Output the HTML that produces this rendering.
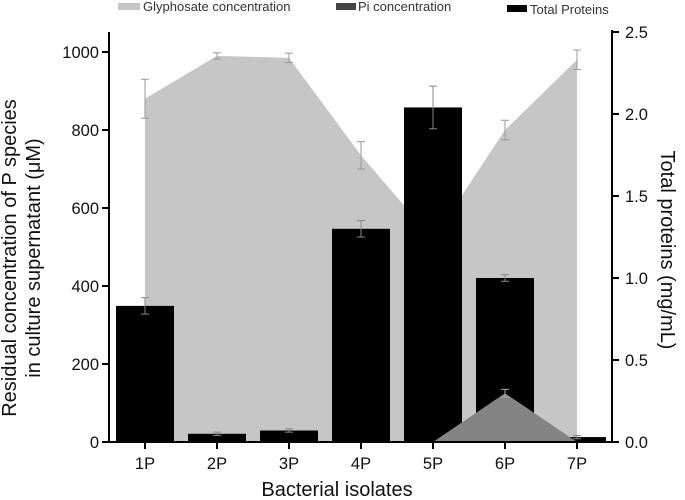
<!DOCTYPE html>
<html><head><meta charset="utf-8">
<style>
body{margin:0;background:#fff;}
svg{display:block;font-family:"Liberation Sans",Arial,sans-serif;}
</style></head>
<body>
<svg id="chart" width="685" height="500" viewBox="0 0 685 500">
  <g>
    <g>
      <rect x="118" y="3" width="22" height="7" fill="#c6c6c6"/>
      <text x="143" y="11" font-size="13" fill="#333">Glyphosate concentration</text>
    </g>
    <g>
      <rect x="336" y="3" width="20" height="7" fill="#444"/>
      <text x="358" y="11" font-size="13" fill="#333">Pi concentration</text>
    </g>
    <g>
      <rect x="507" y="5" width="20" height="7" fill="#000"/>
      <text x="530" y="14" font-size="13" fill="#333">Total Proteins</text>
    </g>
  </g>
  <g id="plot"></g>
  <text font-size="20" fill="#111" text-anchor="middle" transform="translate(16,258) rotate(-90)">Residual concentration of P species</text>
  <text font-size="20" fill="#111" text-anchor="middle" transform="translate(40,258) rotate(-90)">in culture supernatant (μM)</text>
  <text font-size="20" fill="#111" text-anchor="middle" transform="translate(661,250) rotate(90)">Total proteins (mg/mL)</text>
  <text x="337" y="496" font-size="20" fill="#111" text-anchor="middle">Bacterial isolates</text>
</svg>
<script>
const categories = ["1P","2P","3P","4P","5P","6P","7P"];
const glyphosate = [880, 990, 985, 735, 520, 800, 980];
const glyphosateErr = [50, 8, 12, 35, 50, 25, 25];
const pi = [0, 0, 0, 0, 0, 125, 0];
const piErr = [2, 2, 2, 2, 2, 10, 2];
const proteins = [0.83, 0.05, 0.07, 1.30, 2.04, 1.00, 0.03];
const proteinsErr = [0.05, 0.01, 0.01, 0.05, 0.13, 0.02, 0.01];
const leftTicks = [0, 200, 400, 600, 800, 1000];
const rightTicks = ["0.0","0.5","1.0","1.5","2.0","2.5"];

const NS = "http://www.w3.org/2000/svg";
const g = document.getElementById("plot");
const X0 = 109, X1 = 612, Y0 = 442;
const xPos = i => 145 + i * 72;
const yL = v => Y0 - v * 0.39;
const yR = v => Y0 - v * 164;
const BW = 58;
function mk(tag, attrs, parent){
  const e = document.createElementNS(NS, tag);
  for (const k in attrs) e.setAttribute(k, attrs[k]);
  (parent || g).appendChild(e);
  return e;
}
function errBar(x, lo, hi, color, name){
  const eg = mk("g", {stroke: color, "stroke-width": 1});
  
  
  mk("line", {x1:x, x2:x, y1:lo, y2:hi}, eg);
  mk("line", {x1:x-4, x2:x+4, y1:lo, y2:lo}, eg);
  mk("line", {x1:x-4, x2:x+4, y1:hi, y2:hi}, eg);
}
let d = "M" + xPos(0) + "," + Y0;
glyphosate.forEach((v,i) => { d += " L" + xPos(i) + "," + yL(v); });
d += " L" + xPos(glyphosate.length-1) + "," + Y0 + " Z";
const ga = mk("path", {d: d, fill: "#c6c6c6"});


glyphosate.forEach((v,i) => errBar(xPos(i), yL(v - glyphosateErr[i]), yL(v + glyphosateErr[i]), "#999", "glyphosate-error-" + categories[i]));
proteins.forEach((v,i) => {
  const r = mk("rect", {x: xPos(i) - BW/2, y: yR(v), width: BW, height: Y0 - yR(v), fill: "#000"});
  
  
});
let pd = "M" + xPos(0) + "," + Y0;
pi.forEach((v,i) => { pd += " L" + xPos(i) + "," + yL(v); });
pd += " L" + xPos(pi.length-1) + "," + Y0 + " Z";
const pa = mk("path", {d: pd, fill: "#848484"});


pi.forEach((v,i) => { if (v > 0) errBar(xPos(i), yL(v - piErr[i]), yL(v + piErr[i]), "#aaa", "pi-error-" + categories[i]); });
proteins.forEach((v,i) => errBar(xPos(i), yR(v - proteinsErr[i]), yR(v + proteinsErr[i]), "#888", "protein-error-" + categories[i]));
const ax = mk("g", {stroke: "#000", "stroke-width": 2, fill: "none"});


mk("line", {x1: X0, x2: X0, y1: 32, y2: Y0+1}, ax);
mk("line", {x1: X1, x2: X1, y1: 30, y2: Y0+1}, ax);
mk("line", {x1: X0, x2: X1, y1: Y0, y2: Y0}, ax);
leftTicks.forEach(t => {
  mk("line", {x1: X0-7, x2: X0, y1: yL(t), y2: yL(t)}, ax);
  const tx = mk("text", {x: X0-10, y: yL(t)+6, "font-size": 16.5, "text-anchor": "end", fill: "#111", stroke: "none"});
  tx.textContent = t;
  
  
});
rightTicks.forEach(t => {
  const v = parseFloat(t);
  mk("line", {x1: X1, x2: X1+7, y1: yR(v), y2: yR(v)}, ax);
  const tx = mk("text", {x: X1+13, y: yR(v)+6, "font-size": 16.5, fill: "#111", stroke: "none"});
  tx.textContent = t;
  
  
});
categories.forEach((c,i) => {
  mk("line", {x1: xPos(i), x2: xPos(i), y1: Y0, y2: Y0+7}, ax);
  const tx = mk("text", {x: xPos(i), y: Y0+27, "font-size": 16.5, "text-anchor": "middle", fill: "#111", stroke: "none"});
  tx.textContent = c;
  
  
});
</script>
</body></html>
